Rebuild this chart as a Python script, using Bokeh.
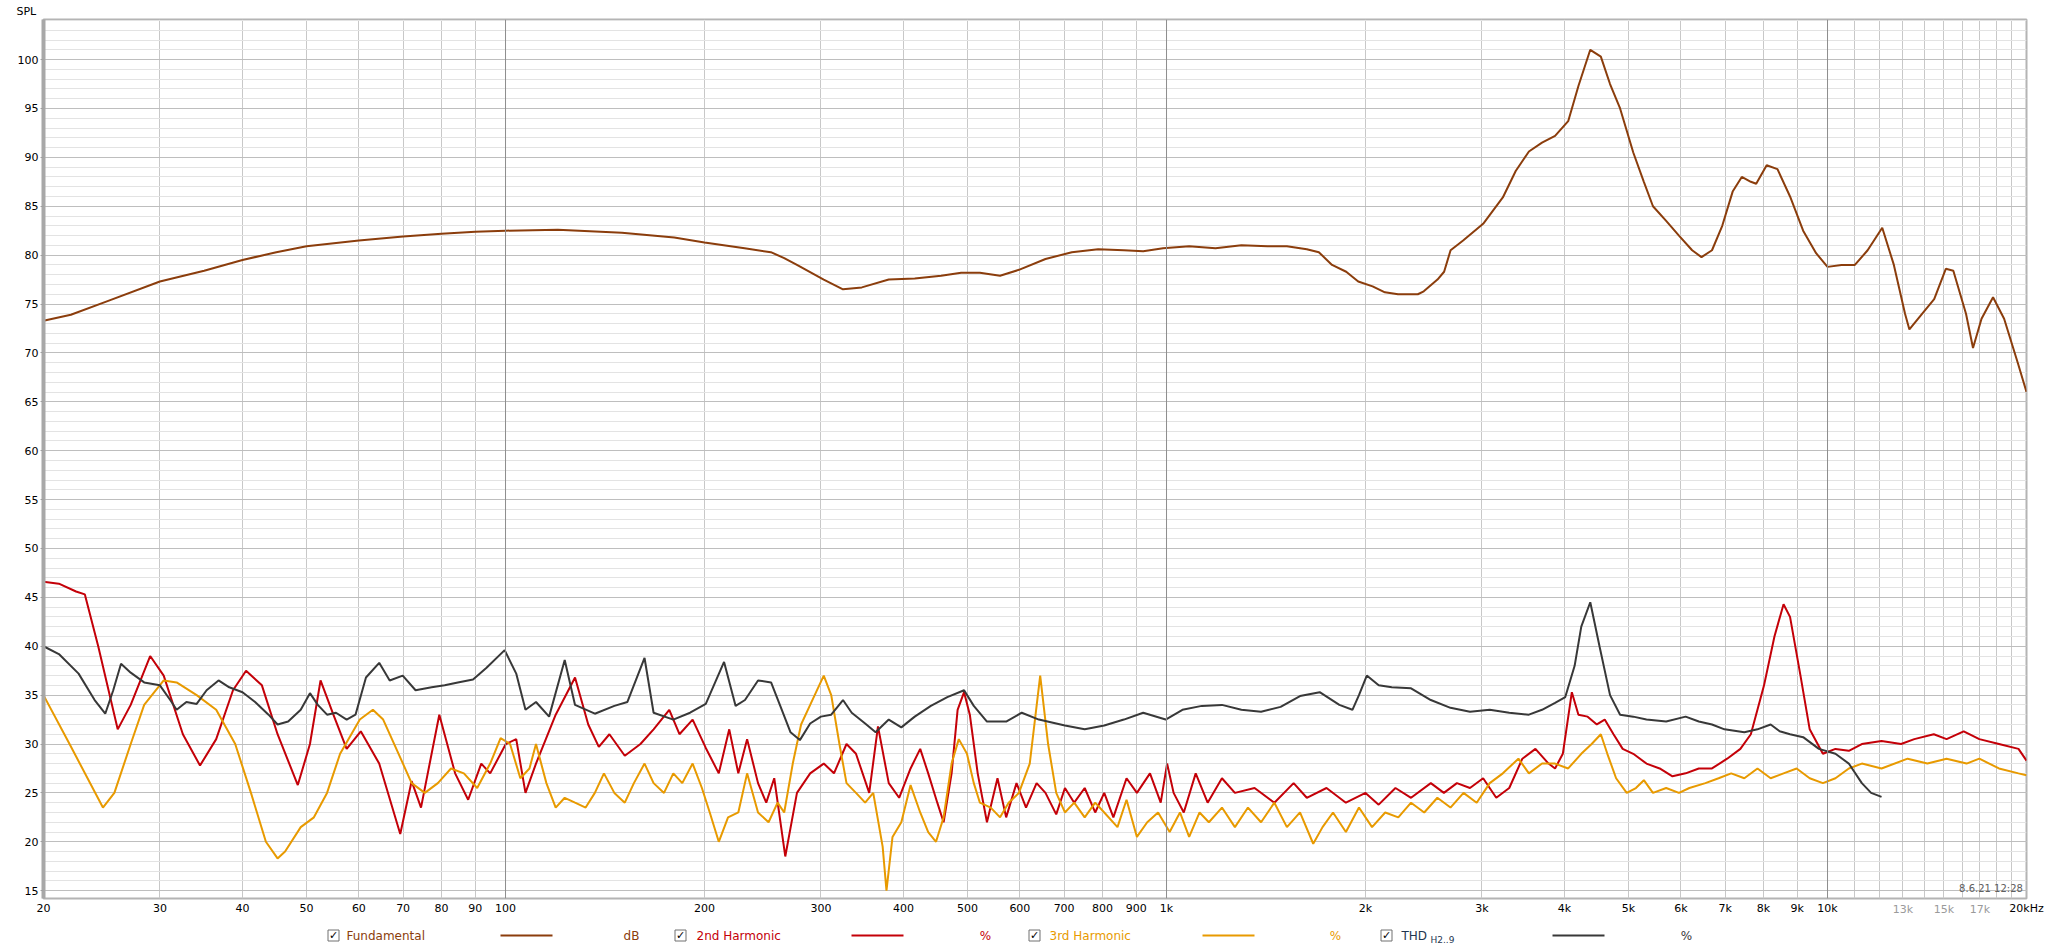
import math
from bokeh.plotting import figure
from bokeh.models import FixedTicker, Label, Span, LogAxis
from bokeh.layouts import column
from bokeh.embed import file_html
from bokeh.resources import INLINE
from bokeh.core.properties import value

FONT = "DejaVu Sans"

# ---------------- data ----------------
fund_f = [20, 22, 25, 30, 35, 40, 45, 50, 60, 70, 80, 90, 100, 120, 150, 180, 200, 230, 252, 264,
          276, 303, 324, 346, 380, 416, 456, 489, 522, 560, 598, 656, 719, 788, 862, 922, 988, 1082,
          1186, 1298, 1422, 1521, 1630, 1700, 1780, 1870, 1950, 2050, 2140, 2240, 2400, 2450, 2570,
          2630, 2690, 2810, 3013, 3227, 3375, 3534, 3699, 3871, 4052, 4199, 4376, 4540, 4688, 4855,
          5083, 5274, 5444, 5700, 5960, 6240, 6447, 6687, 6930, 7186, 7418, 7656, 7800, 8090, 8400,
          8776, 9186, 9610, 10000, 10500, 11000, 11500, 12100, 12600, 13100, 13300, 13900, 14500,
          15100, 15500, 16200, 16600, 17100, 17800, 18500, 19400, 20000]
fund_db = [73.3, 73.9, 75.3, 77.3, 78.4, 79.5, 80.3, 80.9, 81.5, 81.9, 82.2, 82.4, 82.5, 82.6, 82.3,
           81.8, 81.3, 80.7, 80.3, 79.7, 79.0, 77.5, 76.5, 76.7, 77.5, 77.6, 77.9, 78.2, 78.2, 77.9,
           78.5, 79.6, 80.3, 80.6, 80.5, 80.4, 80.7, 80.9, 80.7, 81.0, 80.9, 80.9, 80.6, 80.3, 79.0,
           78.3, 77.3, 76.8, 76.2, 76.0, 76.0, 76.3, 77.5, 78.3, 80.5, 81.5, 83.2, 85.9, 88.6, 90.6,
           91.5, 92.2, 93.7, 97.3, 101.0, 100.3, 97.5, 95.0, 90.5, 87.5, 85.0, 83.5, 82.0, 80.5, 79.8,
           80.5, 83.0, 86.5, 88.0, 87.5, 87.3, 89.2, 88.8, 86.0, 82.5, 80.2, 78.8, 79.0, 79.0, 80.5,
           82.8, 79.0, 74.0, 72.4, 74.0, 75.5, 78.6, 78.4, 74.0, 70.5, 73.5, 75.7, 73.5, 69.0, 66.0]

h2_f = [20, 21.1, 22.4, 23.1, 24.2, 25.9, 27.1, 29.0, 30.4, 32.5, 34.5, 36.5, 38.7, 40.5, 42.8, 45.2,
        48.5, 50.6, 52.5, 54.9, 57.5, 60.4, 64.4, 69.3, 72.1, 74.5, 79.4, 83.9, 87.8, 91.9, 94.8,
        100.1, 103.8, 107.2, 111.2, 119.1, 127.4, 133.4, 138.4, 143.6, 151.5, 160, 167.5, 176.9,
        183.3, 191.9, 200.9, 210.2, 218, 225, 232, 241, 248, 255, 265, 276, 289, 303, 314, 328, 339,
        355, 366, 380, 394, 410, 424, 436, 450, 460, 473, 483, 494, 504, 518, 535, 555, 572, 593,
        613, 636, 656, 681, 702, 725, 752, 780, 805, 831, 870, 902, 944, 980, 1002, 1025, 1062, 1107,
        1154, 1213, 1269, 1359, 1456, 1557, 1630, 1746, 1868, 2000, 2094, 2220, 2344, 2511, 2628,
        2750, 2878, 3013, 3154, 3300, 3454, 3615, 3784, 3871, 3977, 4104, 4199, 4336, 4477, 4602,
        4745, 4899, 5083, 5322, 5573, 5827, 6100, 6387, 6687, 7050, 7382, 7656, 8016, 8312, 8580,
        8776, 9101, 9398, 9840, 10280, 10770, 11270, 12070, 12920, 13530, 14480, 15140, 16070,
        16970, 18170, 19450, 20000]
h2_db = [46.6, 46.4, 45.6, 45.3, 40.0, 31.5, 34.0, 39.0, 37.0, 31.0, 27.8, 30.5, 35.5, 37.5, 36.0,
         31.0, 25.8, 30.0, 36.5, 33.0, 29.5, 31.3, 28.0, 20.8, 26.2, 23.5, 33.0, 27.0, 24.3, 28.0,
         27.0, 30.0, 30.5, 25.0, 28.0, 33.0, 36.8, 32.0, 29.7, 31.0, 28.8, 30.0, 31.5, 33.5, 31.0,
         32.5, 29.6, 27.0, 31.5, 27.0, 30.5, 26.0, 24.0, 26.5, 18.5, 25.0, 27.0, 28.0, 27.0, 30.0,
         29.0, 25.0, 31.8, 26.0, 24.5, 27.5, 29.5, 27.0, 24.0, 22.0, 27.0, 33.5, 35.3, 33.0, 27.0,
         22.0, 26.5, 22.5, 26.0, 23.5, 26.0, 25.0, 22.8, 25.5, 24.0, 25.5, 23.0, 25.0, 22.5, 26.5,
         25.0, 27.0, 24.0, 28.0, 25.0, 23.0, 27.0, 24.0, 26.5, 25.0, 25.5, 24.0, 26.0, 24.5, 25.5,
         24.0, 25.0, 23.8, 25.5, 24.5, 26.0, 25.0, 26.0, 25.5, 26.5, 24.5, 25.5, 28.5, 29.5, 28.0,
         27.5, 29.0, 35.3, 33.0, 32.8, 32.0, 32.5, 31.0, 29.5, 29.0, 28.0, 27.5, 26.7, 27.0, 27.5,
         27.5, 28.5, 29.5, 31.0, 36.0, 41.0, 44.3, 43.0, 37.0, 31.5, 29.0, 29.5, 29.3, 30.0, 30.3,
         30.0, 30.5, 31.0, 30.5, 31.3, 30.5, 30.0, 29.5, 28.3]

h3_f = [20, 21.9, 24.6, 25.6, 27.1, 28.4, 30.4, 31.8, 34.1, 36.5, 39.0, 41.2, 43.4, 45.2, 46.4, 49.0,
        51.3, 53.7, 56.2, 60.2, 63.0, 65.3, 68.9, 72.1, 75.5, 79.0, 82.7, 86.5, 90.6, 94.8, 98.3,
        101.6, 105.3, 108.7, 111.2, 115.3, 119.1, 122.9, 127.4, 132.2, 136.5, 140.9, 146.1, 151.5,
        156.4, 162.3, 167.5, 173.7, 179.4, 185.1, 191.9, 198.2, 203.7, 210.2, 217.1, 225, 232, 241,
        250, 258, 264, 272, 280, 289, 303, 311, 320, 328, 339, 350, 360, 372, 377, 385, 397, 410, 424,
        436, 448, 460, 473, 485, 499, 511, 522, 542, 560, 577, 598, 621, 644, 662, 681, 702, 725, 752,
        780, 805, 843, 870, 902, 935, 971, 1011, 1048, 1082, 1122, 1159, 1213, 1269, 1328, 1390,
        1456, 1521, 1592, 1667, 1722, 1786, 1868, 1955, 2046, 2142, 2242, 2344, 2454, 2569, 2689,
        2814, 2946, 3083, 3227, 3407, 3534, 3699, 3871, 4052, 4241, 4397, 4540, 4644, 4788, 4968,
        5130, 5274, 5444, 5700, 5960, 6180, 6535, 6842, 7150, 7484, 7835, 8203, 8580, 8980, 9398,
        9840, 10280, 10770, 11270, 12070, 13220, 14160, 15140, 16230, 16970, 18170, 19450, 20000]
h3_db = [35.0, 30.0, 23.5, 25.0, 30.0, 34.0, 36.5, 36.3, 35.0, 33.5, 30.0, 25.0, 20.0, 18.3, 19.0,
         21.5, 22.5, 25.0, 29.0, 32.5, 33.5, 32.5, 29.0, 26.0, 25.0, 26.0, 27.5, 27.0, 25.5, 28.0,
         30.6, 30.0, 26.5, 27.5, 30.0, 26.0, 23.5, 24.5, 24.0, 23.5, 25.0, 27.0, 25.0, 24.0, 26.0,
         28.0, 26.0, 25.0, 27.0, 26.0, 28.0, 25.5, 23.0, 20.0, 22.5, 23.0, 27.0, 23.0, 22.0, 24.0,
         23.0, 28.0, 32.0, 34.0, 37.0, 35.0, 30.0, 26.0, 25.0, 24.0, 25.0, 19.5, 15.0, 20.5, 22.0,
         25.8, 23.0, 21.0, 20.0, 22.5, 28.0, 30.5, 29.0, 26.0, 24.0, 23.5, 22.5, 24.0, 25.0, 28.0,
         37.0, 30.0, 25.0, 23.0, 24.0, 22.5, 24.0, 23.0, 21.5, 24.3, 20.5, 22.0, 23.0, 21.0, 23.0,
         20.5, 23.0, 22.0, 23.5, 21.5, 23.5, 22.0, 24.0, 21.5, 23.0, 19.8, 21.5, 23.0, 21.0, 23.5,
         21.5, 23.0, 22.5, 24.0, 23.0, 24.5, 23.5, 25.0, 24.0, 26.0, 27.0, 28.5, 27.0, 28.0, 28.0,
         27.5, 29.0, 30.0, 31.0, 29.0, 26.5, 25.0, 25.5, 26.3, 25.0, 25.5, 25.0, 25.5, 26.0, 26.5,
         27.0, 26.5, 27.5, 26.5, 27.0, 27.5, 26.5, 26.0, 26.5, 27.5, 28.0, 27.5, 28.5, 28.0, 28.5,
         28.0, 28.5, 27.5, 27.0, 26.8]

thd_f = [20, 21.1, 22.6, 23.9, 24.8, 25.5, 26.2, 27.1, 28.4, 30.0, 31.1, 31.8, 32.9, 34.1, 35.3,
         36.8, 38.2, 40.0, 41.8, 43.8, 45.2, 46.9, 49.0, 50.6, 52.0, 53.7, 55.4, 57.5, 59.3, 61.5,
         64.4, 66.8, 69.9, 73.1, 77.3, 80.9, 84.7, 89.3, 93.6, 99.7, 103.8, 107.2, 111.2, 116.4, 122.9,
         127.4, 136.5, 146.1, 152.9, 162.3, 167.5, 179.4, 190.2, 200.9, 214.1, 222.9, 230.3, 241,
         252.2, 260.4, 269.9, 278.8, 289, 300, 311, 324, 334, 350, 363, 380, 397, 416, 440, 466, 494,
         511, 535, 572, 604, 641, 702, 752, 805, 862, 922, 997, 1057, 1131, 1213, 1298, 1390, 1488,
         1592, 1705, 1826, 1911, 1955, 2009, 2094, 2192, 2344, 2511, 2689, 2878, 3083, 3300, 3534,
         3699, 3871, 4011, 4144, 4241, 4376, 4519, 4688, 4855, 5083, 5322, 5700, 6100, 6387, 6687,
         6985, 7484, 7835, 8203, 8464, 8776, 9186, 9705, 10280, 10770, 11270, 11640, 12070]
thd_db = [40.0, 39.2, 37.2, 34.5, 33.1, 35.5, 38.2, 37.3, 36.3, 36.0, 34.5, 33.5, 34.3, 34.1, 35.5,
          36.5, 35.8, 35.3, 34.3, 33.0, 32.0, 32.3, 33.5, 35.2, 34.0, 33.0, 33.2, 32.5, 33.0, 36.8,
          38.3, 36.5, 37.0, 35.5, 35.8, 36.0, 36.3, 36.6, 37.8, 39.6, 37.2, 33.5, 34.3, 32.8, 38.6,
          34.0, 33.1, 33.9, 34.3, 38.8, 33.2, 32.5, 33.2, 34.1, 38.4, 33.9, 34.5, 36.5, 36.3, 33.9,
          31.2, 30.4, 32.1, 32.8, 33.0, 34.5, 33.2, 32.1, 31.2, 32.5, 31.7, 32.8, 33.9, 34.8, 35.5,
          33.9, 32.3, 32.3, 33.2, 32.5, 31.9, 31.5, 31.9, 32.5, 33.2, 32.5, 33.5, 33.9, 34.0, 33.5,
          33.3, 33.8, 34.9, 35.3, 34.0, 33.5, 35.0, 37.0, 36.0, 35.8, 35.7, 34.5, 33.7, 33.3, 33.5,
          33.2, 33.0, 33.5, 34.2, 34.8, 38.0, 42.0, 44.5, 40.0, 35.0, 33.0, 32.8, 32.5, 32.3, 32.8,
          32.3, 32.0, 31.5, 31.2, 31.5, 32.0, 31.3, 31.0, 30.7, 29.5, 29.0, 28.0, 26.0, 25.0, 24.6]

x_tick_vals = [20, 30, 40, 50, 60, 70, 80, 90, 100, 200, 300, 400, 500, 600, 700, 800, 900,
               1000, 2000, 3000, 4000, 5000, 6000, 7000, 8000, 9000, 10000, 20000]
x_tick_text = ["20", "30", "40", "50", "60", "70", "80", "90", "100", "200", "300", "400", "500",
               "600", "700", "800", "900", "1k", "2k", "3k", "4k", "5k", "6k", "7k", "8k", "9k",
               "10k", "20kHz"]
x_minor_tick_vals = [13000, 15000, 17000]
x_minor_tick_text = ["13k", "15k", "17k"]
x_grid_vals = [20, 30, 40, 50, 60, 70, 80, 90, 200, 300, 400, 500, 600, 700, 800, 900,
               2000, 3000, 4000, 5000, 6000, 7000, 8000, 9000,
               11000, 12000, 13000, 14000, 15000, 16000, 17000, 18000, 19000]
x_decades = [100, 1000, 10000]
y_tick_vals = list(range(15, 101, 5))
y_minor_vals = list(range(15, 105))

series = [
    ("Fundamental", "dB", fund_f, fund_db, "#8B3D0C"),
    ("2nd Harmonic", "%", h2_f, h2_db, "#C40008"),
    ("3rd Harmonic", "%", h3_f, h3_db, "#E89A00"),
    ("THD", "%", thd_f, thd_db, "#383838"),
]

# ---------------- geometry ----------------
W = 2048
BL, BR = 43, 22            # frame left / right borders (px)
X0, X1 = 20, 20000
Y0, Y1 = 14.2, 104.1

# ---------------- main plot ----------------
p = figure(width=W, height=920, x_axis_type="log", x_range=(X0, X1), y_range=(Y0, Y1),
           output_backend="svg", toolbar_location=None,
           min_border_left=BL, min_border_right=BR, min_border_top=18, min_border_bottom=22)
p.background_fill_color = "white"
p.outline_line_color = "#B4B4B4"
p.outline_line_width = 2

# "SPL" caption above the value axis
p.title.text = "SPL"
p.title.align = "left"
p.title.offset = -27
p.title.standoff = 4
p.title.text_font = FONT
p.title.text_font_size = "11px"
p.title.text_font_style = "normal"
p.title.text_color = "black"

p.xgrid.ticker = FixedTicker(ticks=x_grid_vals)
p.xgrid.grid_line_color = "#C8C8C8"
p.ygrid.ticker = FixedTicker(ticks=y_tick_vals, minor_ticks=y_minor_vals)
p.ygrid.grid_line_color = "#BEBEBE"
p.ygrid.minor_grid_line_color = "#E3E3E3"
for d in x_decades:
    p.add_layout(Span(location=d, dimension="height", line_color="#8E8E8E", line_width=1))

def style_x_axis(ax, color, standoff):
    ax.major_tick_line_color = None
    ax.minor_tick_line_color = None
    ax.major_tick_out = 0
    ax.minor_tick_out = 0
    ax.axis_line_color = None
    ax.major_label_standoff = standoff
    ax.major_label_text_font = FONT
    ax.major_label_text_font_size = "11px"
    ax.major_label_text_color = color

xax = p.xaxis[0]
xax.ticker = FixedTicker(ticks=x_tick_vals)
xax.major_label_overrides = {v: t for v, t in zip(x_tick_vals, x_tick_text)}
style_x_axis(xax, "black", 3)

# grey secondary labels (13k, 15k, 17k) drawn on the same band
xax2 = LogAxis(ticker=FixedTicker(ticks=x_minor_tick_vals),
               major_label_overrides={v: t for v, t in zip(x_minor_tick_vals, x_minor_tick_text)})
style_x_axis(xax2, "#9A9A9A", -15)
p.add_layout(xax2, "below")

p.yaxis.ticker = FixedTicker(ticks=y_tick_vals)
p.yaxis.axis_line_color = "#A8A8A8"
p.yaxis.axis_line_width = 4
p.yaxis.major_tick_out = 3
p.yaxis.major_tick_in = 0
p.yaxis.major_tick_line_color = "#A0A0A0"
p.yaxis.minor_tick_line_color = None
p.yaxis.major_label_standoff = 2
p.yaxis.major_label_text_font = FONT
p.yaxis.major_label_text_font_size = "11px"
p.yaxis.major_label_text_color = "black"

for name, unit, fx, fy, col in series:
    p.line(fx, fy, line_color=col, line_width=2)

p.add_layout(Label(x=19750, y=15.2, text="8.6.21 12:28", text_align="right", text_baseline="middle",
                   text_font=FONT, text_font_size="10px", text_color="#606060"))

# ---------------- legend strip (x in page pixels) ----------------
lg = figure(width=W, height=30, x_range=(BL, W - BR), y_range=(0, 30), output_backend="svg",
            toolbar_location=None, min_border_left=BL, min_border_right=BR,
            min_border_top=0, min_border_bottom=0, x_axis_location=None, y_axis_location=None)
lg.grid.visible = False
lg.outline_line_color = None

box_x = [333, 680, 1034, 1386]
name_x = [346, 696, 1049, 1401]
line_x0 = [500, 851, 1202, 1552]
unit_x = [631, 985, 1335, 1686]
yc = 15
for i, (name, unit, fx, fy, col) in enumerate(series):
    lg.rect(x=box_x[i], y=yc, width=11, height=11, fill_color="white", line_color="#707070")
    lg.text(x=box_x[i], y=yc, text=["\u2713"], text_align="center", text_baseline="middle",
            text_font=value(FONT), text_font_size="11px", text_color="black")
    tcol = "#1F3550" if name == "THD" else col
    lg.text(x=name_x[i], y=yc, text=[name], text_align="left", text_baseline="middle",
            text_font=value(FONT), text_font_size="12px", text_color=tcol)
    if name == "THD":
        lg.text(x=name_x[i] + 29, y=yc - 4, text=["H2..9"], text_align="left",
                text_baseline="middle", text_font=value(FONT), text_font_size="9px",
                text_color=tcol)
    lg.segment(x0=line_x0[i], y0=yc, x1=line_x0[i] + 52, y1=yc, line_color=col, line_width=2)
    lg.text(x=unit_x[i], y=yc, text=[unit], text_align="center", text_baseline="middle",
            text_font=value(FONT), text_font_size="12px", text_color=col)

layout = column(p, lg, spacing=0)
open("out.html", "w").write(file_html(layout, INLINE))
